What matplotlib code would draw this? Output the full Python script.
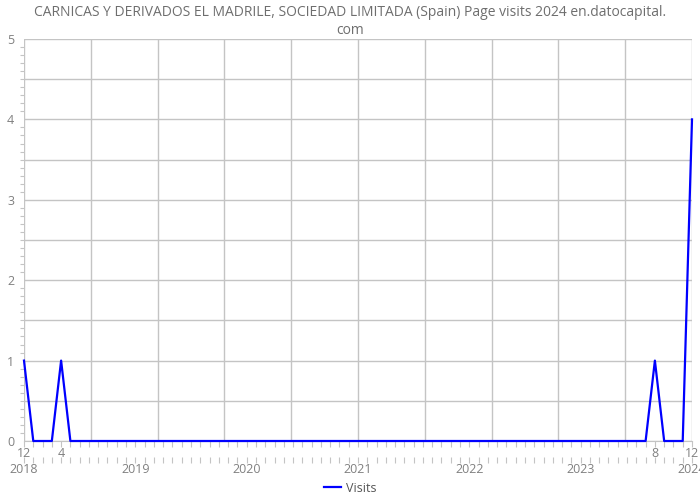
import matplotlib
matplotlib.use('Agg')
import matplotlib.pyplot as plt
from matplotlib.ticker import MultipleLocator

plt.rcParams['font.family'] = ['Open Sans', 'DejaVu Sans']

title = 'CARNICAS Y DERIVADOS EL MADRILE, SOCIEDAD LIMITADA (Spain) Page visits 2024 en.datocapital.\ncom'

# monthly visits, Dec 2017 .. Dec 2023
months = [
    '2017-12',
    '2018-01', '2018-02', '2018-03', '2018-04', '2018-05', '2018-06',
    '2018-07', '2018-08', '2018-09', '2018-10', '2018-11', '2018-12',
    '2019-01', '2019-02', '2019-03', '2019-04', '2019-05', '2019-06',
    '2019-07', '2019-08', '2019-09', '2019-10', '2019-11', '2019-12',
    '2020-01', '2020-02', '2020-03', '2020-04', '2020-05', '2020-06',
    '2020-07', '2020-08', '2020-09', '2020-10', '2020-11', '2020-12',
    '2021-01', '2021-02', '2021-03', '2021-04', '2021-05', '2021-06',
    '2021-07', '2021-08', '2021-09', '2021-10', '2021-11', '2021-12',
    '2022-01', '2022-02', '2022-03', '2022-04', '2022-05', '2022-06',
    '2022-07', '2022-08', '2022-09', '2022-10', '2022-11', '2022-12',
    '2023-01', '2023-02', '2023-03', '2023-04', '2023-05', '2023-06',
    '2023-07', '2023-08', '2023-09', '2023-10', '2023-11', '2023-12',
]
visits = [
    1,
    0, 0, 0, 1, 0, 0, 0, 0, 0, 0, 0, 0,
    0, 0, 0, 0, 0, 0, 0, 0, 0, 0, 0, 0,
    0, 0, 0, 0, 0, 0, 0, 0, 0, 0, 0, 0,
    0, 0, 0, 0, 0, 0, 0, 0, 0, 0, 0, 0,
    0, 0, 0, 0, 0, 0, 0, 0, 0, 0, 0, 0,
    0, 0, 0, 0, 0, 0, 0, 1, 0, 0, 0, 4,
]
month_ticks = ['2017-12', '2018-04', '2023-08', '2023-12']
month_labels = ['12', '4', '8', '12']
year_labels = ['2018', '2019', '2020', '2021', '2022', '2023', '2024']

x = list(range(len(months)))
grey = '#808080'
gridc = '#c4c4c4'

fig = plt.figure(figsize=(7, 5), dpi=100)
ax = fig.add_axes([24/700, 59/500, 668/700, 402/500])
ax.plot(x, visits, color='#0000ff', lw=1.6, label='Visits', clip_on=False, zorder=3)

ax.set_xlim(0, len(months) - 1)
ax.set_ylim(0, 5)

# grid
ax.set_yticks([0, 1, 2, 3, 4, 5])
ax.yaxis.set_minor_locator(MultipleLocator(0.1))
for v in [i * 0.5 for i in range(11)]:
    ax.axhline(v, color=gridc, lw=1, zorder=1)
for i in range(11):
    ax.axvline(i * 7.2, color=gridc, lw=1, zorder=1)

for s in ['top', 'right', 'left']:
    ax.spines[s].set_visible(False)
ax.spines['bottom'].set_color(gridc)

ax.tick_params(axis='y', which='major', length=0, labelsize=9, labelcolor=grey, pad=7)
ax.tick_params(axis='y', which='minor', length=3, color=gridc, width=0.8)

ax.set_xticks([months.index(m) for m in month_ticks])
ax.set_xticklabels(month_labels)
ax.xaxis.set_minor_locator(MultipleLocator(1))
ax.tick_params(axis='x', which='major', length=4, color=gridc, labelsize=9, labelcolor=grey, pad=0)
ax.tick_params(axis='x', which='minor', length=4, color=gridc, width=0.8)

sec = ax.secondary_xaxis(-0.04)
sec.set_xticks([months.index(m) for m in months if m.endswith('-12')])
sec.set_xticklabels(year_labels)
sec.xaxis.set_minor_locator(MultipleLocator(1))
sec.spines['bottom'].set_visible(False)
sec.tick_params(axis='x', which='major', length=4, color=gridc, labelsize=9, labelcolor=grey, pad=0)
sec.tick_params(axis='x', which='minor', length=4, color=gridc, width=0.8)

fig.text(0.5, 0.99, title, ha='center', va='top', fontsize=10, color='#6e6e6e', linespacing=1.3)
fig.legend(loc='lower center', bbox_to_anchor=(0.5, -0.012), frameon=False, fontsize=9,
           labelcolor='#555555', handlelength=1.4, handletextpad=0.4)

fig.savefig('out.png', dpi=100)
